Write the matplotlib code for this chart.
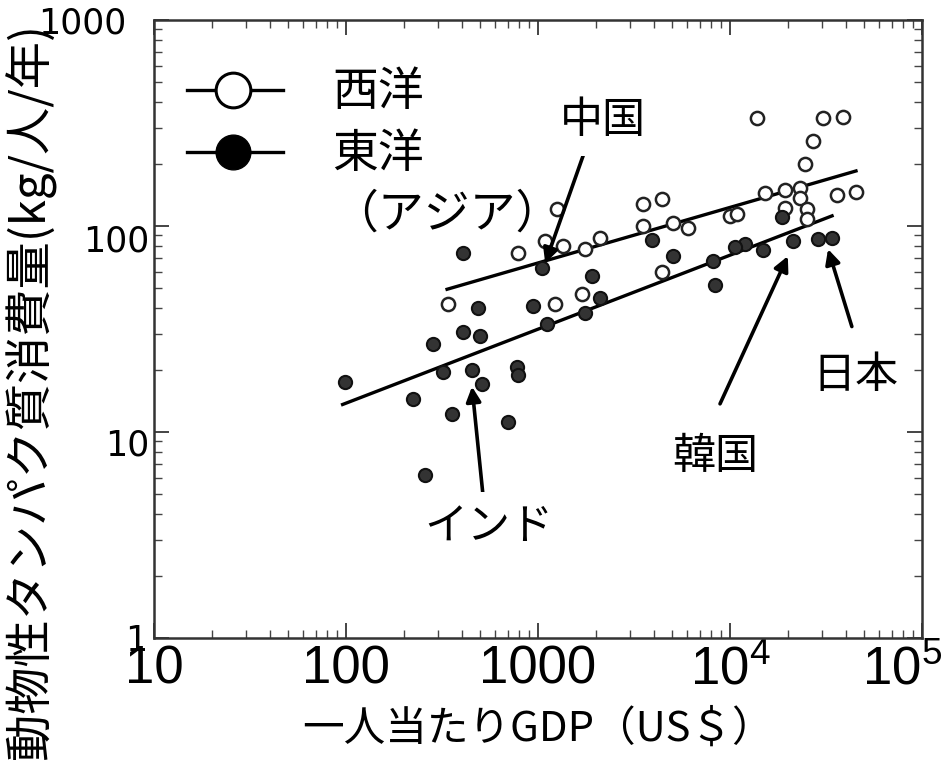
import numpy as np
import matplotlib
matplotlib.use("Agg")
import matplotlib.pyplot as plt
from matplotlib.lines import Line2D
from matplotlib.transforms import ScaledTranslation

plt.rcParams['font.family'] = ['Noto Sans CJK JP', 'DejaVu Sans']

# ── データ（一人当たりGDP [US$], 動物性タンパク質消費量 [kg/人/年]） ──
west_gdp = [13800, 30500, 38800, 27000, 24600, 36100, 45300, 15200, 19300, 23200,
            19300, 23200, 25200, 25200, 10000, 10900, 3520, 4420, 3520, 5050,
            6040, 4420, 1690, 1230, 1260, 1090, 787, 1350, 1760, 2100, 340]
west_prot = [333, 333, 340, 260, 200, 142, 147, 145, 150, 153,
             122, 137, 121, 108, 112, 114, 128, 135, 100, 103,
             98, 60, 46.6, 41.6, 121, 84.5, 73.8, 79.9, 77.2, 87.4, 41.6]

east_gdp = [99, 223, 357, 258, 698, 778, 787, 284, 407, 499,
            320, 453, 511, 487, 407, 942, 1110, 1050, 1910, 2100,
            1760, 3920, 5050, 8350, 18700, 21300, 28700, 34000, 14900, 12000,
            10600, 8150]
east_prot = [17.5, 14.5, 12.2, 6.2, 11.2, 20.7, 19.0, 26.6, 30.7, 29.4,
             19.6, 20.1, 17.1, 39.8, 73.8, 40.7, 33.3, 62.4, 57.0, 44.6,
             37.7, 85.5, 71.4, 51.5, 111, 84.5, 86.4, 87.4, 76.4, 81.7,
             79.0, 67.5]

# 回帰直線の両端
west_fit_x = [336, 45300]
west_fit_y = [49.3, 185]
east_fit_x = [96, 34000]
east_fit_y = [13.6, 112]

# 国名ラベル: (文字, 文字位置, 矢印の根元, 矢印の先)
countries = [
    ('中国', (2180, 325), (1740, 227), (1090, 66)),
    ('インド', (556, 3.44), (517, 4.93), (453, 16.6)),
    ('韓国', (8350, 7.55), (8870, 13.7), (20000, 71.4)),
    ('日本', (44800, 18.7), (43100, 32.5), (32400, 77.2)),
]

xticks = [10, 100, 1000, 1e4, 1e5]
xticklabels = ['10', '100', '1000', r'$\mathregular{10^4}$', r'$\mathregular{10^5}$']
yticks = [1, 10, 100, 1000]
yticklabels = ['1', '10', '100', '1000']

# ── 描画 ──
fig = plt.figure(figsize=(9.53, 7.81), dpi=100)
ax = fig.add_axes([0.1616, 0.1831, 0.8059, 0.7913])
ax.set_xscale('log')
ax.set_yscale('log')
ax.set_xlim(10, 1e5)
ax.set_ylim(1, 1000)

ax.plot(west_fit_x, west_fit_y, color='black', lw=2.4, zorder=3)
ax.plot(east_fit_x, east_fit_y, color='black', lw=2.4, zorder=3)
ax.plot(west_gdp, west_prot, 'o', ms=9.5, mfc='white', mec='#222222', mew=1.8, zorder=4)
ax.plot(east_gdp, east_prot, 'o', ms=9.5, mfc='#333333', mec='#111111', mew=1.5, zorder=4)

for name, pos, tail, tip in countries:
    ax.annotate('', xy=tip, xytext=tail,
                arrowprops=dict(arrowstyle='-|>', color='black', lw=2.6,
                                mutation_scale=22, shrinkA=0, shrinkB=0),
                zorder=5)
    ax.text(pos[0], pos[1], name, fontsize=31, ha='center', va='center',
            bbox=dict(facecolor='white', edgecolor='none', pad=10), zorder=6)

# 軸・目盛り
for s in ax.spines.values():
    s.set_color('#333333')
    s.set_linewidth(1.8)
ax.tick_params(which='both', direction='in', top=True, right=True, color='#444444')
ax.tick_params(which='major', length=11, width=1.4)
ax.tick_params(which='minor', length=6, width=1.0)
ax.set_xticks(xticks)
ax.set_xticklabels(xticklabels, fontsize=38, family=['Liberation Sans'])
ax.set_yticks(yticks)
ax.set_yticklabels(yticklabels, fontsize=25, family=['DejaVu Sans'])
ax.tick_params(axis='x', pad=5)
ax.tick_params(axis='y', pad=3)

# 目盛りラベルの位置の微調整 (単位: インチ)
x_shift = {'$\\mathregular{10^5}$': (-0.2, 0)}
y_shift = {'1000': (-0.23, 0), '100': (0, -0.12), '10': (0, -0.1), '1': (-0.02, 0)}
fig.canvas.draw()
for lab in ax.get_xticklabels():
    dx, dy = x_shift.get(lab.get_text(), (0, 0))
    lab.set_transform(lab.get_transform() + ScaledTranslation(dx, dy, fig.dpi_scale_trans))
for lab in ax.get_yticklabels():
    dx, dy = y_shift.get(lab.get_text(), (0, 0))
    lab.set_transform(lab.get_transform() + ScaledTranslation(dx, dy, fig.dpi_scale_trans))

ax.set_xlabel('一人当たりGDP（US＄）', fontsize=30, labelpad=10)
ax.set_ylabel('動物性タンパク質消費量(kg/人/年)', fontsize=34)
ax.yaxis.set_label_coords(-0.128, 0.40)

# 凡例
lx = [0.043, 0.168]
ax.add_line(Line2D(lx, [0.887, 0.887], transform=ax.transAxes, color='black', lw=2.4))
ax.add_line(Line2D([0.103], [0.887], transform=ax.transAxes, marker='o', ms=25,
                   mfc='white', mec='black', mew=2.2, ls='none'))
ax.add_line(Line2D(lx, [0.786, 0.786], transform=ax.transAxes, color='black', lw=2.4))
ax.add_line(Line2D([0.103], [0.786], transform=ax.transAxes, marker='o', ms=25,
                   mfc='black', mec='black', ls='none'))
ax.text(0.232, 0.884, '西洋', transform=ax.transAxes, fontsize=33, va='center')
ax.text(0.232, 0.783, '東洋', transform=ax.transAxes, fontsize=33, va='center')
ax.text(0.232, 0.686, '（アジア）', transform=ax.transAxes, fontsize=33, va='center')

plt.savefig('out.png', dpi=100)
